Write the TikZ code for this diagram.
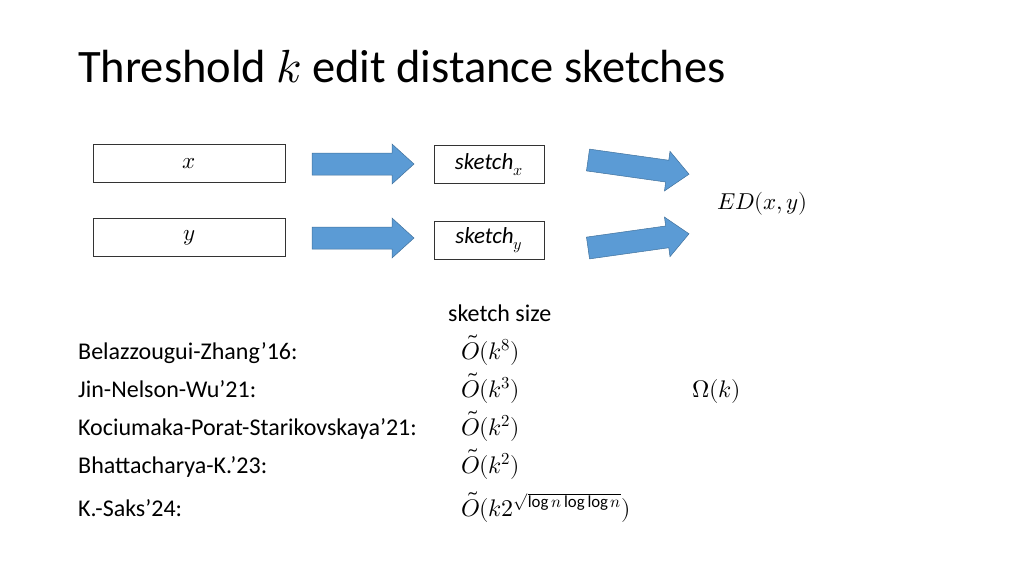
\documentclass[tikz,border=0pt]{standalone}
\usepackage{fontspec}
\usepackage{unicode-math}
\setmainfont{Carlito}
\setmathfont{Latin Modern Math}
\definecolor{ablue}{RGB}{91,155,213}
\definecolor{aedge}{RGB}{65,113,156}
\newcommand{\fatarrow}[3]{%
  \begin{scope}[shift={(#1,#2)},rotate=#3]
  \filldraw[fill=ablue,draw=aedge,line width=0.5pt] (0,-11) -- (80,-11) -- (80,-20) -- (102,0) -- (80,20) -- (80,11) -- (0,11) -- cycle;
  \end{scope}}
\begin{document}
\begin{tikzpicture}[x=1pt,y=-1pt,
  boxn/.style={draw=black!80,line width=0.8pt,minimum height=38pt,inner sep=0pt,font=\fontsize{23}{26}\selectfont},
  txt/.style={anchor=base west,inner sep=0pt,font=\fontsize{24}{27}\selectfont}]
\useasboundingbox (0,0) rectangle (1024,576);
\node[anchor=base west,inner sep=0pt,font=\fontsize{46.5}{50}\selectfont] (title) at (78,82) {Threshold $k$ edit distance sketches};
\node[boxn,minimum width=192pt] (x) at (189,163.5) {$x$};
\node[boxn,minimum width=192pt] (y) at (189,237.5) {$y$};
\node[boxn,minimum width=110pt] (sx) at (489,164.5) {\textit{sketch}$_x$};
\node[boxn,minimum width=110pt] (sy) at (489,240.5) {\textit{sketch}$_y$};
\fatarrow{312}{164}{0}
\fatarrow{312}{238}{0}
\fatarrow{588}{160}{-8}
\fatarrow{588}{248}{8}
\node[anchor=west,inner sep=0pt,font=\fontsize{23}{26}\selectfont] (ed) at (717,204) {$ED(x,y)$};
\node[txt] (ss) at (448,321) {sketch size};
\node[txt] (r1) at (78,359) {Belazzougui-Zhang’16:};
\node[txt] (r2) at (78,397) {Jin-Nelson-Wu’21:};
\node[txt] (r3) at (78,435) {Kociumaka-Porat-Starikovskaya’21:};
\node[txt] (r4) at (78,473) {Bhattacharya-K.’23:};
\node[txt] (r5) at (78,516) {K.-Saks’24:};
\node[txt] (m1) at (461,359) {$\tilde O(k^8)$};
\node[txt] (m2) at (461,397) {$\tilde O(k^3)$};
\node[txt] (m3) at (461,435) {$\tilde O(k^2)$};
\node[txt] (m4) at (461,473) {$\tilde O(k^2)$};
\node[txt] (m5) at (461,516) {$\tilde O(k2^{\sqrt{\log n\log\log n}})$};
\node[txt] (om) at (692,397) {$\Omega(k)$};
\end{tikzpicture}
\end{document}
